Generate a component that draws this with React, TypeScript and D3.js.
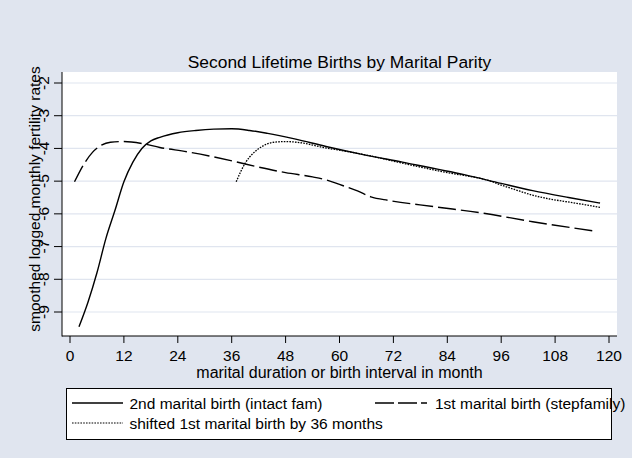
import React from "react";
import * as d3 from "d3";

// ---- data ----
const intactMonths = [2, 4, 6, 8, 10, 12, 14, 16, 18, 20, 24, 28, 32, 36, 40, 44, 50, 57, 65, 74, 88, 96, 103, 111, 118];
const intactValues = [-9.45, -8.7, -7.8, -6.75, -5.9, -5.02, -4.42, -4.0, -3.77, -3.66, -3.52, -3.45, -3.41, -3.4, -3.45, -3.54, -3.71, -3.94, -4.18, -4.42, -4.81, -5.07, -5.29, -5.5, -5.67];

const stepMonths = [1, 3, 5, 7, 9, 12, 16, 20, 26, 31, 37, 42, 48, 54, 57, 60, 64, 67, 71, 81, 92, 103, 117];
const stepValues = [-5.02, -4.5, -4.12, -3.9, -3.81, -3.79, -3.85, -3.97, -4.1, -4.23, -4.41, -4.57, -4.74, -4.87, -4.96, -5.1, -5.3, -5.48, -5.59, -5.78, -5.98, -6.24, -6.53];

const shiftedMonths = [37, 39, 41, 43, 45, 48, 52, 56, 62, 67, 73, 78, 84, 90, 93, 96, 100, 103, 107, 112, 118];
const shiftedValues = [-5.02, -4.45, -4.12, -3.92, -3.82, -3.79, -3.84, -3.96, -4.1, -4.23, -4.42, -4.57, -4.74, -4.88, -4.97, -5.12, -5.3, -5.43, -5.55, -5.66, -5.8];

const xTicks = [0, 12, 24, 36, 48, 60, 72, 84, 96, 108, 120];
const yTicks = [-2, -3, -4, -5, -6, -7, -8, -9];

const titleText = "Second Lifetime Births by Marital Parity";
const xTitle = "marital duration or birth interval in month";
const yTitle = "smoothed logged monthly fertility rates";
const legendLabels = [
  "2nd marital birth (intact fam)",
  "1st marital birth (stepfamily)",
  "shifted 1st marital birth by 36 months",
];

// ---- layout ----
const W = 632;
const H = 458;
const BG = "#e0e5ef";
const FONT = "'Liberation Sans', Arial, Helvetica, sans-serif";
const plot = { left: 62, right: 617, top: 72, bottom: 336 };

export default function App() {
  const x = d3.scaleLinear().domain([0, 120]).range([70, 609]);
  const y = d3.scaleLinear().domain([-2, -9]).range([83, 312]);

  const line = d3
    .line<[number, number]>()
    .x((d) => x(d[0]))
    .y((d) => y(d[1]))
    .curve(d3.curveMonotoneX);

  const zip = (a: number[], b: number[]) => a.map((m, i) => [m, b[i]] as [number, number]);

  const series = [
    { d: zip(intactMonths, intactValues), dash: "none", w: 1.4 },
    { d: zip(stepMonths, stepValues), dash: "18,5", w: 1.4 },
    { d: zip(shiftedMonths, shiftedValues), dash: "1.6,1.2", w: 1.3 },
  ];

  const fs = 15.5;

  return (
    <svg
      width={W}
      height={H}
      style={{ position: "fixed", left: 0, top: 0, display: "block" }}
      fontFamily={FONT}
    >
      <rect x={0} y={0} width={W} height={H} fill={BG} />
      <rect
        x={plot.left}
        y={plot.top}
        width={plot.right - plot.left}
        height={plot.bottom - plot.top}
        fill="#ffffff"
      />
      {/* grid */}
      {yTicks.map((t) => (
        <line
          key={"g" + t}
          x1={plot.left}
          x2={plot.right}
          y1={y(t)}
          y2={y(t)}
          stroke={BG}
          strokeWidth={1.2}
        />
      ))}
      {/* title */}
      <text x={339.5} y={67.5} textAnchor="middle" fontSize={17.4} fill="#000">
        {titleText}
      </text>

      {/* series */}
      {series.map((s, i) => (
        <path
          key={"s" + i}
          d={line(s.d) || ""}
          fill="none"
          stroke="#000"
          strokeWidth={s.w}
          strokeDasharray={s.dash}
        />
      ))}

      {/* axes */}
      <line x1={plot.left} x2={plot.left} y1={plot.top} y2={plot.bottom + 0.5} stroke="#000" strokeWidth={1} />
      <line x1={plot.left} x2={plot.right} y1={plot.bottom} y2={plot.bottom} stroke="#000" strokeWidth={1} />
      {yTicks.map((t) => (
        <g key={"yt" + t}>
          <line x1={54} x2={plot.left} y1={y(t)} y2={y(t)} stroke="#000" strokeWidth={1} />
          <text
            transform={`translate(${49},${y(t)}) rotate(-90)`}
            textAnchor="middle"
            fontSize={fs}
            fill="#000"
          >
            {t}
          </text>
        </g>
      ))}
      {xTicks.map((t) => (
        <g key={"xt" + t}>
          <line x1={x(t)} x2={x(t)} y1={plot.bottom} y2={plot.bottom + 7} stroke="#000" strokeWidth={1} />
          <text x={x(t)} y={360.5} textAnchor="middle" fontSize={fs} fill="#000">
            {t}
          </text>
        </g>
      ))}
      <text x={339.5} y={377.5} textAnchor="middle" fontSize={16} fill="#000">
        {xTitle}
      </text>
      <text
        transform={`translate(${40},${199}) rotate(-90)`}
        textAnchor="middle"
        fontSize={fs}
        fill="#000"
      >
        {yTitle}
      </text>

      {/* legend */}
      <rect x={66.5} y={388.5} width={545} height={51} fill="#fff" stroke="#000" strokeWidth={1} />
      <line x1={72} x2={123} y1={403} y2={403} stroke="#000" strokeWidth={1.4} />
      <text x={129.5} y={408.5} fontSize={fs} fill="#000">
        {legendLabels[0]}
      </text>
      <line x1={375} x2={427} y1={403} y2={403} stroke="#000" strokeWidth={1.4} strokeDasharray="19,4" />
      <text x={435} y={408.5} fontSize={fs} fill="#000">
        {legendLabels[1]}
      </text>
      <line x1={72} x2={123} y1={423} y2={423} stroke="#000" strokeWidth={1.2} strokeDasharray="1.6,1.2" />
      <text x={129.5} y={428.5} fontSize={fs} fill="#000">
        {legendLabels[2]}
      </text>
    </svg>
  );
}
